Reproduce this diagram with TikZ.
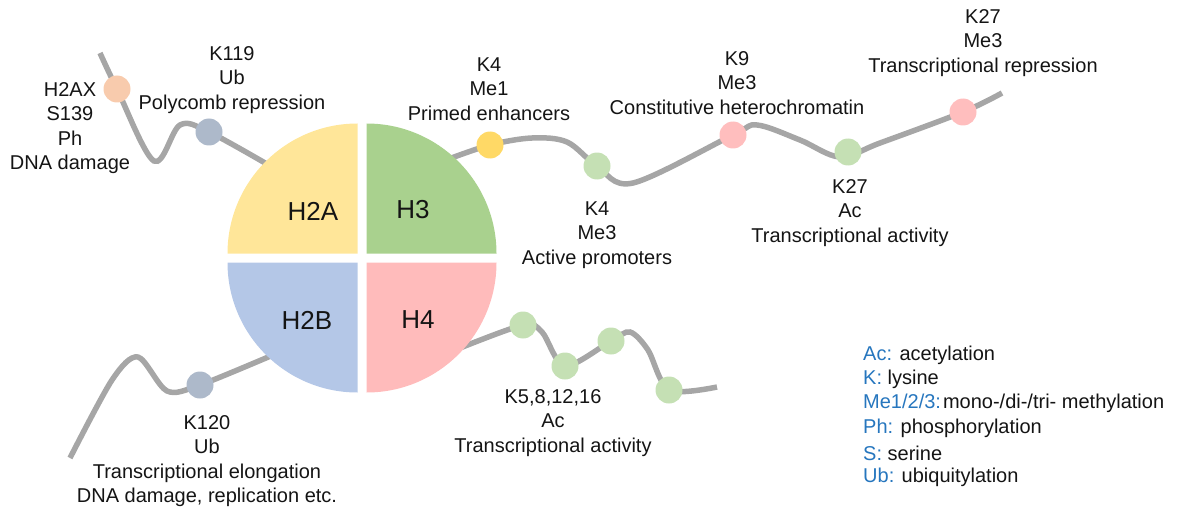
\documentclass[tikz,border=0pt]{standalone}
\usepackage{fontspec}
\setmainfont{Liberation Sans}
\begin{document}
\definecolor{txtcol}{RGB}{20,20,20}
\definecolor{legblue}{RGB}{38,118,190}
\definecolor{tailgray}{RGB}{166,166,166}
\definecolor{qyellow}{RGB}{255,230,153}
\definecolor{qgreen}{RGB}{169,209,142}
\definecolor{qblue}{RGB}{180,199,231}
\definecolor{qpink}{RGB}{255,187,187}
\definecolor{dorange}{RGB}{248,203,173}
\definecolor{dslate}{RGB}{173,185,202}
\definecolor{dyellow}{RGB}{255,217,102}
\definecolor{dgreen}{RGB}{197,224,180}
\definecolor{dpink}{RGB}{255,190,190}
\begin{tikzpicture}[x=1pt,y=-1pt,
  tail/.style={draw=tailgray,line width=5.5pt,line cap=butt},
  mark dot/.style={circle,minimum size=27pt,inner sep=0pt,fill=#1},
  lab/.style={align=center,text=txtcol,font=\fontsize{20}{24.5}\selectfont,inner sep=0pt},
  qlab/.style={text=txtcol,font=\fontsize{26}{30}\selectfont,inner sep=0pt},
  leg/.style={anchor=west,text=txtcol,font=\fontsize{20}{24}\selectfont,inner sep=0pt}]
\useasboundingbox (0,0) rectangle (1183,508);

% ends of the tails
\coordinate (a0) at (272,167);
\coordinate (b0) at (446,160);
\coordinate (c0) at (280,352);
\coordinate (d0) at (455,350);
\coordinate (aEnd) at (100,53);
\coordinate (bEnd) at (1002,93);
\coordinate (cEnd) at (70,458);
\coordinate (dEnd) at (717,387);

% histone tails (drawn under the core)
\draw[tail] plot[smooth,tension=0.55] coordinates
  {(a0) (209,132) (180,125) (154,161) (117,89) (aEnd)};
\draw[tail] plot[smooth,tension=0.55] coordinates
  {(b0) (490,145) (532,138) (567,142) (597,166) (633,183) (733,135) (757,125) (800,140) (840,157) (880,143) (963,112) (bEnd)};
\draw[tail] plot[smooth,tension=0.5] coordinates
  {(c0) (200,385) (167,391) (138,357) (112,380) (cEnd)};
\draw[tail] plot[smooth,tension=0.5] coordinates
  {(d0) (523,325) (542,332) (565,366) (611,341) (630,332) (648,350) (669,390) (dEnd)};

% nucleosome core: four quadrants (y axis points down, so 270 is up)
\fill[qyellow] (357.5,253.5) -- ++(-130,0) arc[start angle=180,end angle=270,radius=130] -- cycle;
\fill[qgreen]  (366.5,253.5) -- ++(0,-130) arc[start angle=270,end angle=360,radius=130] -- cycle;
\fill[qblue]   (357.5,262.5) -- ++(-130,0) arc[start angle=180,end angle=90,radius=130] -- cycle;
\fill[qpink]   (366.5,262.5) -- ++(130,0) arc[start angle=0,end angle=90,radius=130] -- cycle;
\node[qlab] (h2a) at (313,211) {H2A};
\node[qlab] (h3)  at (413,210) {H3};
\node[qlab] (h2b) at (307,320) {H2B};
\node[qlab] (h4)  at (418,320) {H4};

% modification dots
\node[mark dot=dorange] (m1) at (117,89) {};
\node[mark dot=dslate]  (m2) at (209,132) {};
\node[mark dot=dyellow] (m3) at (490,145) {};
\node[mark dot=dgreen]  (m4) at (597,166) {};
\node[mark dot=dpink]   (m5) at (733,135) {};
\node[mark dot=dgreen]  (m6) at (848,152) {};
\node[mark dot=dpink]   (m7) at (963,112) {};
\node[mark dot=dslate]  (m8) at (200,385) {};
\node[mark dot=dgreen]  (m9) at (523,325) {};
\node[mark dot=dgreen]  (m10) at (565,366) {};
\node[mark dot=dgreen]  (m11) at (611,341) {};
\node[mark dot=dgreen]  (m12) at (669,390) {};

% labels
\node[lab] (t1) at (70,128) {H2AX\\S139\\Ph\\DNA damage};
\node[lab] (t2) at (232,80) {K119\\Ub\\Polycomb repression};
\node[lab] (t3) at (489,89) {K4\\Me1\\Primed enhancers};
\node[lab] (t4) at (597,235) {K4\\Me3\\Active promoters};
\node[lab] (t5) at (737,83) {K9\\Me3\\Constitutive heterochromatin};
\node[lab] (t6) at (983,43) {K27\\Me3\\Transcriptional repression};
\node[lab] (t7) at (850,213) {K27\\Ac\\Transcriptional activity};
\node[lab] (t8) at (207,461) {K120\\Ub\\Transcriptional elongation\\DNA damage, replication etc.};
\node[lab] (t9) at (553,423) {K5,8,12,16\\Ac\\Transcriptional activity};

% abbreviations
\node[leg] (l1) at (863,355) {\textcolor{legblue}{Ac:} acetylation};
\node[leg] (l2) at (863,379) {\textcolor{legblue}{K:} lysine};
\node[leg] (l3) at (863,403) {\textcolor{legblue}{Me1/2/3:}\hspace{2pt}mono-/di-/tri- methylation};
\node[leg] (l4) at (863,428) {\textcolor{legblue}{Ph:} phosphorylation};
\node[leg] (l5) at (863,453) {\textcolor{legblue}{S:} serine};
\node[leg] (l6) at (863,477) {\textcolor{legblue}{Ub:} ubiquitylation};
\end{tikzpicture}
\end{document}
